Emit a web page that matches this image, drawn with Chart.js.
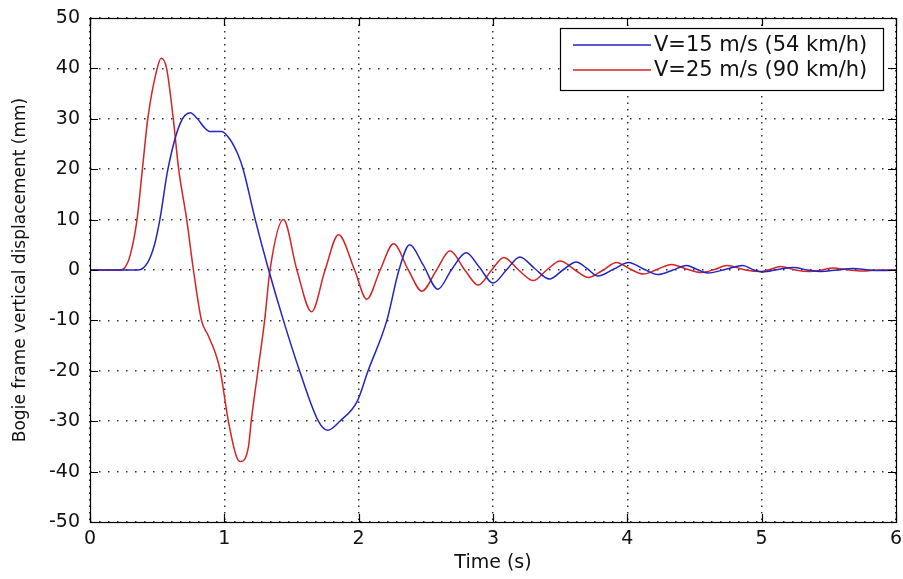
<!DOCTYPE html>
<html>
<head>
<meta charset="utf-8">
<script src="https://cdn.jsdelivr.net/npm/chart.js@4.4.1/dist/chart.umd.min.js"></script>
<style>
  html, body { margin: 0; padding: 0; background: #fff; }
  #wrap { width: 903px; height: 579px; position: relative; }
</style>
</head>
<body>
<div id="wrap"><canvas id="chart"></canvas></div>
<script>
// Series labels
const SERIES_NAMES = ['V=15 m/s (54 km/h)', 'V=25 m/s (90 km/h)'];

// V=15 m/s : time (s) and displacement (mm)
const T15 = [0, 0.36, 0.43, 0.48, 0.52, 0.58, 0.67, 0.745, 0.8, 0.85, 0.89, 0.98, 1.04, 1.1, 1.14, 1.23, 1.33,
  1.44, 1.56, 1.70, 1.77, 1.86, 1.99, 2.07, 2.21, 2.30, 2.38, 2.48, 2.59, 2.69, 2.80, 2.90, 3.0, 3.1, 3.2,
  3.31, 3.42, 3.52, 3.62, 3.70, 3.78, 3.90, 4.01, 4.12, 4.23, 4.34, 4.44, 4.52, 4.60, 4.74, 4.86, 4.94,
  5.01, 5.12, 5.24, 5.34, 5.44, 5.56, 5.68, 5.80, 5.90, 6.0];
const V15 = [0, 0, 1.5, 5, 10, 20, 29, 31.2, 30, 28.3, 27.5, 27.5, 26, 23, 20, 10, 0,
  -10, -20, -30, -31.8, -30, -26, -20, -10, 0, 5, 1, -3.8, 0, 3.4, 0.5, -2.6, 0, 2.6,
  0.3, -1.8, 0, 1.6, 0.3, -1.2, 0.2, 1.5, 0.2, -0.9, 0, 0.9, 0.1, -0.6, 0.2, 0.9, 0,
  -0.4, 0.1, 0.5, 0, -0.3, 0, 0.3, 0, -0.1, 0];

// V=25 m/s
const T25 = [0, 0.22, 0.26, 0.30, 0.35, 0.39, 0.43, 0.50, 0.53, 0.57, 0.62, 0.66, 0.72, 0.77, 0.83, 0.88,
  0.94, 0.97, 1.03, 1.09, 1.12, 1.18, 1.20, 1.25, 1.30, 1.34, 1.44, 1.54, 1.65, 1.75, 1.85, 1.97, 2.06,
  2.16, 2.26, 2.37, 2.47, 2.58, 2.68, 2.79, 2.89, 2.99, 3.08, 3.19, 3.30, 3.40, 3.50, 3.61, 3.71, 3.82,
  3.92, 4.02, 4.12, 4.22, 4.33, 4.44, 4.55, 4.65, 4.74, 4.88, 4.99, 5.06, 5.14, 5.25, 5.36, 5.45, 5.53,
  5.65, 5.75, 5.88, 6.0];
const V25 = [0, 0, 0.5, 3, 10, 20, 30, 40, 42, 40, 30, 20, 10, 0, -10, -13,
  -17, -20, -30, -37, -38, -35, -30, -20, -10, 0, 10, 0, -8.3, 0, 7, 0, -5.8,
  0, 5.2, 0, -4.2, 0, 3.8, 0, -3.0, 0, 2.5, 0, -2.1, 0, 1.8, 0, -1.5, 0,
  1.5, 0.2, -0.8, 0.1, 1.1, 0.2, -0.5, 0.1, 0.9, 0, -0.3, 0.1, 0.7, 0, -0.3, 0, 0.4,
  0, -0.2, 0, 0];

const X_TICKS = [0, 1, 2, 3, 4, 5, 6];
const Y_TICKS = [-50, -40, -30, -20, -10, 0, 10, 20, 30, 40, 50];

const COLORS = ['#2424c0', '#d42424'];
const FONT = 'DejaVu Sans';

function pts(t, v) { return t.map((x, i) => ({ x, y: v[i] })); }

// box around the plot, inward ticks on all sides, and the boxed legend
const matlabFrame = {
  id: 'matlabFrame',
  afterDraw(chart) {
    const { ctx, chartArea: a, scales } = chart;
    ctx.save();
    ctx.strokeStyle = '#000';
    ctx.lineWidth = 1.2;
    ctx.strokeRect(Math.round(a.left) + 0.5, Math.round(a.top) + 0.5,
      Math.round(a.right - a.left), Math.round(a.bottom - a.top));
    ctx.beginPath();
    for (const v of X_TICKS) {
      const x = Math.round(scales.x.getPixelForValue(v)) + 0.5;
      ctx.moveTo(x, a.bottom); ctx.lineTo(x, a.bottom - 8);
      ctx.moveTo(x, a.top); ctx.lineTo(x, a.top + 8);
    }
    for (const v of Y_TICKS) {
      const y = Math.round(scales.y.getPixelForValue(v)) + 0.5;
      ctx.moveTo(a.left, y); ctx.lineTo(a.left + 8, y);
      ctx.moveTo(a.right, y); ctx.lineTo(a.right - 8, y);
    }
    ctx.stroke();

    // legend
    const lx = 560.5, ly = 28.5, lw = 323, lh = 62;
    ctx.fillStyle = '#fff';
    ctx.fillRect(lx, ly, lw, lh);
    ctx.strokeRect(lx, ly, lw, lh);
    ctx.font = `21px "${FONT}"`;
    ctx.textBaseline = 'middle';
    chart.data.datasets.forEach((ds, i) => {
      const y = 45 + i * 25;
      ctx.strokeStyle = ds.borderColor;
      ctx.lineWidth = 1.4;
      ctx.beginPath();
      ctx.moveTo(573, y); ctx.lineTo(651, y);
      ctx.stroke();
      ctx.fillStyle = '#111';
      ctx.fillText(ds.label, 654, y + 1);
    });
    ctx.restore();
  }
};

new Chart(document.getElementById('chart').getContext('2d'), {
  type: 'line',
  data: {
    datasets: [
      { label: SERIES_NAMES[0], data: pts(T15, V15), borderColor: COLORS[0], borderWidth: 1.5,
        pointRadius: 0, cubicInterpolationMode: 'monotone', fill: false },
      { label: SERIES_NAMES[1], data: pts(T25, V25), borderColor: COLORS[1], borderWidth: 1.5,
        pointRadius: 0, cubicInterpolationMode: 'monotone', fill: false },
    ],
  },
  options: {
    responsive: true, maintainAspectRatio: false, animation: false,
    layout: { padding: { top: 18, right: 7, left: 0, bottom: 0 } },
    plugins: { legend: { display: false }, tooltip: { enabled: false } },
    scales: {
      x: {
        type: 'linear', min: 0, max: 6,
        afterFit: s => { s.height = 57; s.paddingLeft = 0; s.paddingRight = 0; },
        afterBuildTicks: s => { s.ticks = X_TICKS.map(value => ({ value })); },
        grid: { color: '#333', lineWidth: 1.5, drawTicks: false },
        border: { display: false, dash: [1.5, 5] },
        ticks: { color: '#111', font: { family: FONT, size: 19 }, padding: 6, maxRotation: 0 },
        title: { display: true, text: 'Time (s)', color: '#111', font: { family: FONT, size: 19 },
                 padding: { top: 0, bottom: 5 } },
      },
      y: {
        type: 'linear', min: -50, max: 50,
        afterFit: s => { s.width = 90; s.paddingTop = 0; s.paddingBottom = 0; },
        afterBuildTicks: s => { s.ticks = Y_TICKS.map(value => ({ value })); },
        grid: { color: '#333', lineWidth: 1.5, drawTicks: false },
        border: { display: false, dash: [1.5, 7.5] },
        ticks: { color: '#111', font: { family: FONT, size: 19 }, padding: 10 },
        title: { display: true, text: 'Bogie frame vertical displacement (mm)', color: '#111',
                 font: { family: FONT, size: 17 }, padding: { top: 10, bottom: 0 } },
      },
    },
  },
  plugins: [matlabFrame],
});
</script>
</body>
</html>
